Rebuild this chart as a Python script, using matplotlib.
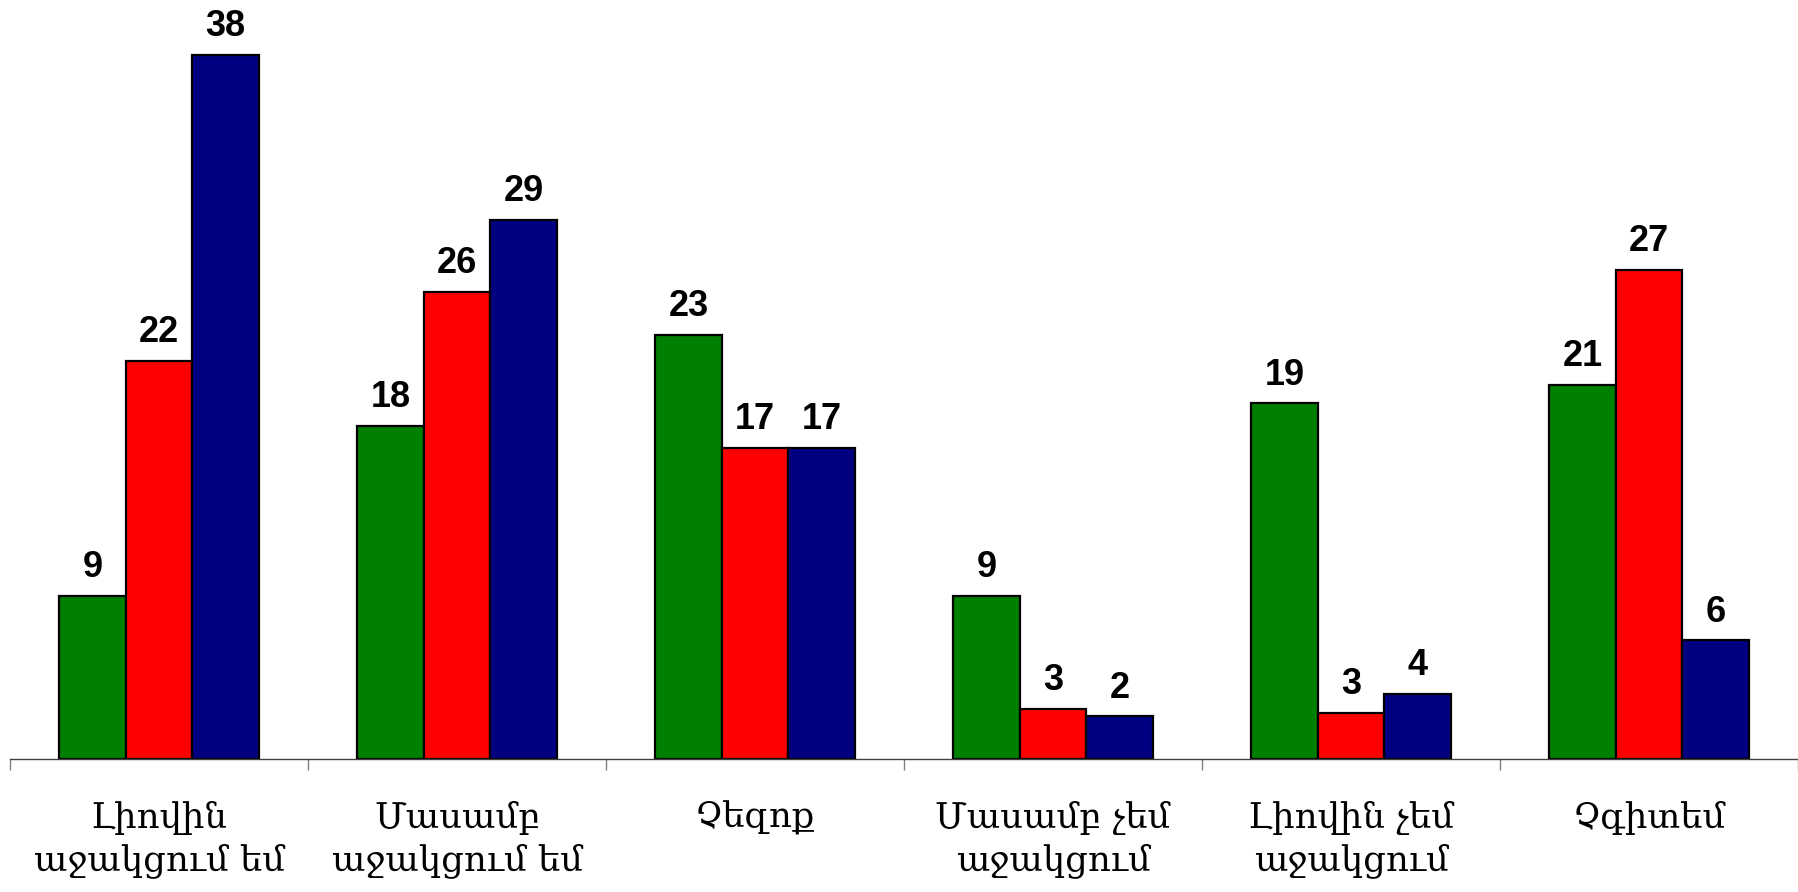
import numpy as np
import matplotlib
matplotlib.use("Agg")
import matplotlib.pyplot as plt

# categories (Armenian answers) and three series, heights
categories = ["Լիովին\nաջակցում եմ", "Մասամբ\nաջակցում եմ", "Չեզոք",
              "Մասամբ չեմ\nաջակցում", "Լիովին չեմ\nաջակցում", "Չգիտեմ"]
green_vals = [8.8, 18.0, 22.9, 8.8, 19.2, 20.2]
red_vals = [21.5, 25.2, 16.8, 2.7, 2.5, 26.4]
blue_vals = [38.0, 29.1, 16.8, 2.3, 3.5, 6.4]
# printed labels (rounded values as shown on the chart)
green_labels = ["9", "18", "23", "9", "19", "21"]
red_labels = ["22", "26", "17", "3", "3", "27"]
blue_labels = ["38", "29", "17", "2", "4", "6"]

colors = ["#008000", "#FF0000", "#000080"]

fig = plt.figure(figsize=(17.98, 8.92), dpi=100)
ax = fig.add_axes([10 / 1798, 133 / 892, 1788 / 1798, (759 - 18) / 892])

x = np.arange(len(categories))
w = 0.2233
series = [(green_vals, green_labels), (red_vals, red_labels), (blue_vals, blue_labels)]
for k, (vals, labs) in enumerate(series):
    pos = x + (k - 1) * w
    ax.bar(pos, vals, width=w, color=colors[k], edgecolor="black", linewidth=1.6)
    for xp, v, lab in zip(pos, vals, labs):
        ax.annotate(lab, (xp, v), xytext=(0, 13.5), textcoords="offset points",
                    ha="center", va="baseline", fontsize=26, fontweight="bold",
                    family=["Liberation Sans", "DejaVu Sans"])

ax.set_xlim(-0.5, len(categories) - 0.5)
ax.set_ylim(0, 40)
ax.set_yticks([])
for s in ["left", "right", "top"]:
    ax.spines[s].set_visible(False)
ax.spines["bottom"].set_color("#404040")
ax.spines["bottom"].set_linewidth(1.0)

ax.set_xticks(x)
ax.set_xticklabels(categories, fontsize=25.5, family=["DejaVu Serif", "DejaVu Sans"],
                   linespacing=1.3)
ax.tick_params(axis="x", which="major", length=0, pad=30)
ax.set_xticks(np.arange(len(categories) + 1) - 0.5, minor=True)
ax.tick_params(axis="x", which="minor", length=8, width=1, color="#808080", direction="out")

fig.savefig("out.png", dpi=100)
